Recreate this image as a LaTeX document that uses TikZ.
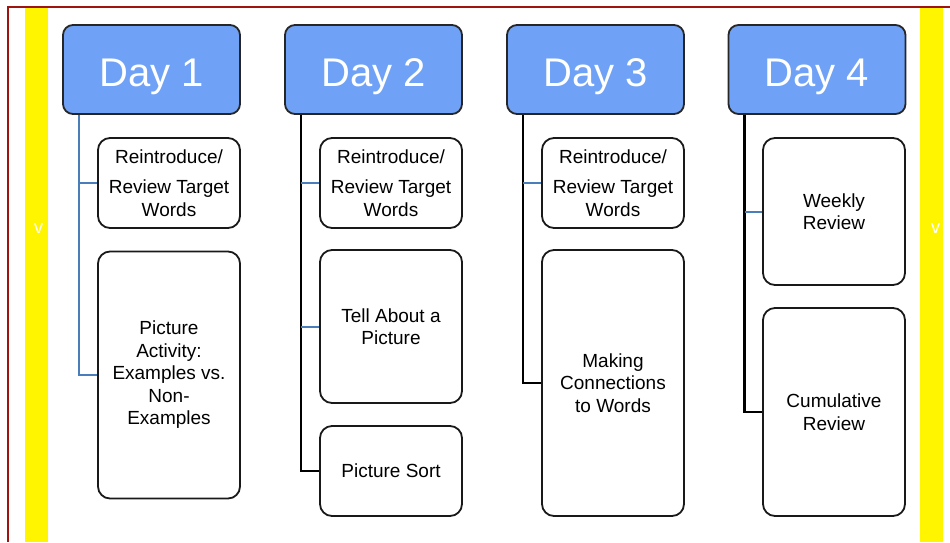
\documentclass[tikz,border=0pt]{standalone}
\usepackage{fontspec}
\setmainfont{Liberation Sans}
\definecolor{framered}{RGB}{160,20,15}
\definecolor{yellowbar}{RGB}{255,245,0}
\definecolor{hdr}{RGB}{111,162,246}
\definecolor{bline}{RGB}{74,126,187}
\begin{document}
\begin{tikzpicture}[x=1pt,y=-1pt,
  header/.style={draw=black!85,line width=1.8pt,rounded corners=10pt,fill=hdr,
    minimum width=177pt,minimum height=89pt,text=white,font=\fontsize{40}{44}\selectfont,inner sep=0pt,
    text depth=0pt},
  item/.style={draw=black!90,line width=1.8pt,rounded corners=12pt,fill=white,
    minimum width=142pt,align=center,inner sep=0pt,
    font=\fontsize{19}{22.5}\selectfont},
  blueconn/.style={draw=bline,line width=2pt},
  blackconn/.style={draw=black,line width=2.4pt},
  vmark/.style={text=white,font=\fontsize{19}{20}\selectfont}]
\useasboundingbox (0,0) rectangle (950,542);
% frame and side bars
\fill[fill=yellowbar] (25,8) rectangle (48,542);
\fill[fill=yellowbar] (920,8) rectangle (943,542);
\draw[draw=framered,line width=2pt] (8,542) -- (8,7) -- (950,7);
\node[vmark] (vl) at (38.5,228) {v};
\node[vmark] (vr) at (935.5,228) {v};
% headers
\node[header] (d1) at (151.5,69.5) {\raisebox{-6pt}{Day 1}};
\node[header] (d2) at (373.5,69.5) {\raisebox{-6pt}{Day 2}};
\node[header] (d3) at (595.5,69.5) {\raisebox{-6pt}{Day 3}};
\node[header] (d4) at (817,69.5) {\raisebox{-6pt}{Day 4}};
% Day 1 items
\node[item,minimum height=90pt] (a1) at (169,183) {Reintroduce/\\[8pt]Review Target\\Words};
\node[item,minimum height=247pt] (b1) at (169,375) {Picture\\Activity:\\Examples vs.\\Non-\\Examples};
% Day 2 items
\node[item,minimum height=90pt] (a2) at (391,183) {Reintroduce/\\[8pt]Review Target\\Words};
\node[item,minimum height=153pt] (t2) at (391,326.5) {Tell About a\\Picture};
\node[item,minimum height=90pt] (s2) at (391,471) {Picture Sort};
% Day 3 items
\node[item,minimum height=90pt] (a3) at (613,183) {Reintroduce/\\[8pt]Review Target\\Words};
\node[item,minimum height=266pt] (m3) at (613,383) {Making\\Connections\\to Words};
% Day 4 items
\node[item,minimum height=147pt] (w4) at (834,211.5) {Weekly\\Review};
\node[item,minimum height=208pt] (c4) at (834,412) {Cumulative\\Review};
% connectors
\coordinate (v1) at ([xshift=17pt]d1.south west);
\coordinate (v2) at ([xshift=17pt]d2.south west);
\coordinate (v3) at ([xshift=17pt]d3.south west);
\coordinate (v4) at ([xshift=17pt]d4.south west);
\draw[blueconn] (v1) |- (b1.west);
\draw[blueconn] (v1 |- a1.west) -- (a1.west);
\draw[blackconn] (v2) |- (s2.west);
\draw[blueconn] (v2 |- a2.west) -- (a2.west);
\draw[blueconn] (v2 |- t2.west) -- (t2.west);
\draw[blackconn] (v3) |- (m3.west);
\draw[blueconn] (v3 |- a3.west) -- (a3.west);
\draw[blackconn] (v4) |- (c4.west);
\draw[blueconn] (v4 |- w4.west) -- (w4.west);
\end{tikzpicture}
\end{document}
